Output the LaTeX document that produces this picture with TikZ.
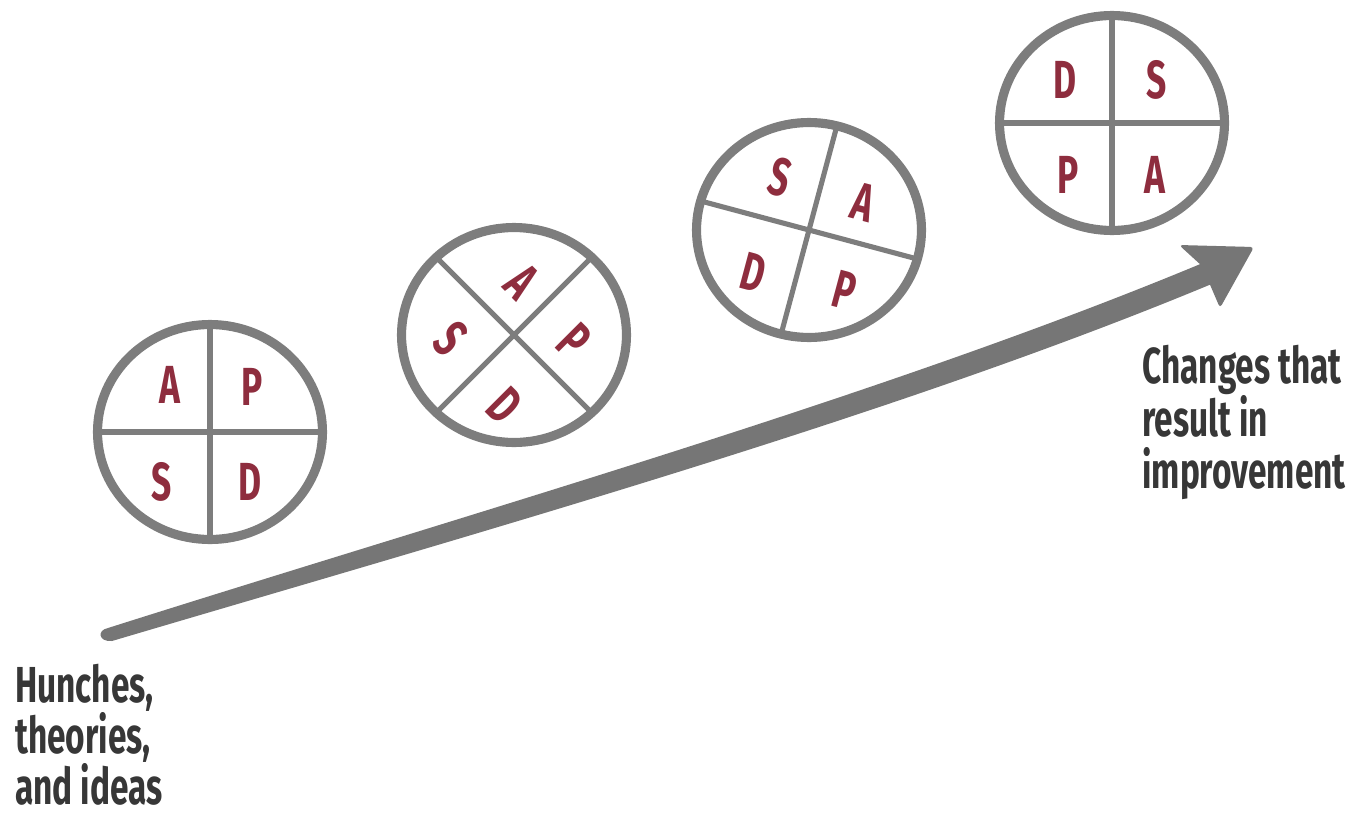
\documentclass[tikz,border=0pt]{standalone}
\usepackage{fontspec}
\newfontfamily\condfont[FakeStretch=0.66]{Fira Sans}
\usetikzlibrary{shapes.geometric}
\definecolor{ringgray}{RGB}{125,125,125}
\definecolor{arrowgray}{RGB}{118,118,118}
\definecolor{letterred}{RGB}{142,45,62}
\definecolor{textdark}{RGB}{55,55,55}
\begin{document}
\begin{tikzpicture}[x=0.02cm,y=-0.02cm,
  ring/.style={ellipse, draw=ringgray, line width=5.2pt, minimum width=4.5cm, minimum height=4.3cm, inner sep=0pt, outer sep=0pt},
  divider/.style={draw=ringgray, line width=2.9pt},
  letter/.style={text=letterred, font=\condfont\bfseries\fontsize{30.5}{30}\selectfont, inner sep=0pt},
  sidenote/.style={text=textdark, font=\condfont\bfseries\fontsize{28.8}{29}\selectfont, inner sep=0pt, anchor=base west}
]
\useasboundingbox (0,0) rectangle (1361,818);

% arrow
\coordinate (tailpt) at (108,635);
\coordinate (tippt) at (1254,247);
\fill[arrowgray] (108,628) .. controls (480,510) and (890,394) .. (1210,260)
  -- (1214,283) .. controls (895,416) and (480,532) .. (112,641)
  .. controls (98,642) and (97,630) .. cycle;
\fill[arrowgray, rounded corners=2pt] (tippt) -- (1179,245) -- (1202,266) -- (1220,308) -- cycle;

% circle 1
\node[ring] (c1) at (210,432) {};
\draw[divider] (c1.north) -- (c1.south);
\draw[divider] (c1.west) -- (c1.east);
\node[letter] (c1a) at (170,385) {A};
\node[letter] (c1p) at (252,387) {P};
\node[letter] (c1s) at (162,482) {S};
\node[letter] (c1d) at (250,482) {D};

% circle 2
\node[ring] (c2) at (514,335) {};
\draw[divider] (c2.45) -- (c2.225);
\draw[divider] (c2.135) -- (c2.315);
\node[letter, rotate=-45] (c2a) at (522,282) {A};
\node[letter, rotate=-45] (c2p) at (574,341) {P};
\node[letter, rotate=-45] (c2d) at (505,406) {D};
\node[letter, rotate=-45] (c2s) at (451,339) {S};

% circle 3
\node[ring] (c3) at (809,230) {};
\draw[divider] (c3.75) -- (c3.255);
\draw[divider] (c3.165) -- (c3.-15);
\node[letter, rotate=-15] (c3s) at (780,177) {S};
\node[letter, rotate=-15] (c3a) at (863,202) {A};
\node[letter, rotate=-15] (c3d) at (753,273) {D};
\node[letter, rotate=-15] (c3p) at (845,290) {P};

% circle 4
\node[ring] (c4) at (1112,123) {};
\draw[divider] (c4.north) -- (c4.south);
\draw[divider] (c4.west) -- (c4.east);
\node[letter] (c4d) at (1065,80) {D};
\node[letter] (c4s) at (1157,80) {S};
\node[letter] (c4p) at (1068,175) {P};
\node[letter] (c4a) at (1155,175) {A};

% labels
\node[sidenote] (h1) at (15,702) {Hunches,};
\node[sidenote] (h2) at (15,753) {theories,};
\node[sidenote] (h3) at (15,804) {and ideas};
\node[sidenote] (r1) at (1142,383) {Changes that};
\node[sidenote] (r2) at (1142,436) {result in};
\node[sidenote] (r3) at (1142,488) {improvement};
\end{tikzpicture}
\end{document}
